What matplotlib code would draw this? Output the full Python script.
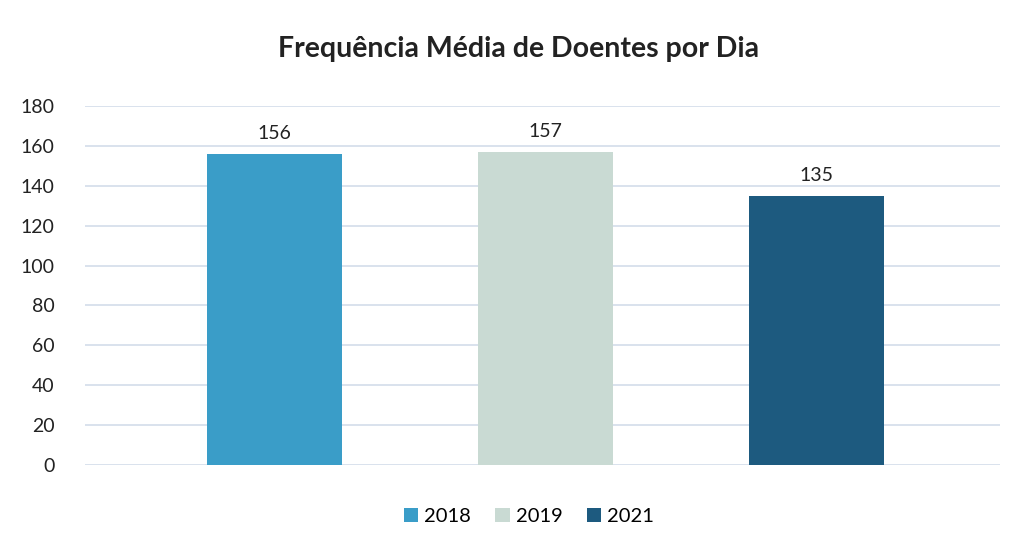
import matplotlib.pyplot as plt
from matplotlib.patches import Patch

plt.rcParams['font.family'] = ['Lato', 'DejaVu Sans']

# dados
anos = ['2018', '2019', '2021']
valores = [156, 157, 135]
cores = ['#3A9DC8', '#C9DAD3', '#1D5A7F']
yticks = list(range(0, 181, 20))

fig = plt.figure(figsize=(10.27, 5.47), dpi=100)
ax = fig.add_axes([0.083, 0.150, 0.891, 0.656])

pos = list(range(len(anos)))
barras = ax.bar(pos, valores, width=0.5, color=cores, zorder=3)
for b, v in zip(barras, valores):
    ax.text(b.get_x() + b.get_width() / 2, v + 6, str(v), ha='center', va='bottom',
            fontsize=14, color='#222222')

ax.set_xlim(-0.7, 2.68)
ax.set_ylim(0, 180)
ax.set_yticks(yticks)
ax.set_yticklabels([str(t) for t in yticks], fontsize=14, color='#222222')
ax.set_xticks([])
ax.tick_params(axis='y', length=0, pad=22)
ax.grid(axis='y', color='#D3DDEA', linewidth=1.2, zorder=0)
for s in ax.spines.values():
    s.set_visible(False)

fig.text(0.505, 0.91, 'Frequência Média de Doentes por Dia', ha='center', va='center',
         fontsize=20.5, fontweight='bold', color='#222222')

handles = [Patch(facecolor=c, label=a) for a, c in zip(anos, cores)]
fig.legend(handles=handles, loc='center', bbox_to_anchor=(0.515, 0.055), ncol=3,
           frameon=False, fontsize=14.5, handlelength=0.7, handleheight=0.7,
           handletextpad=0.3, columnspacing=1.2)

plt.savefig('out.png', dpi=100)
